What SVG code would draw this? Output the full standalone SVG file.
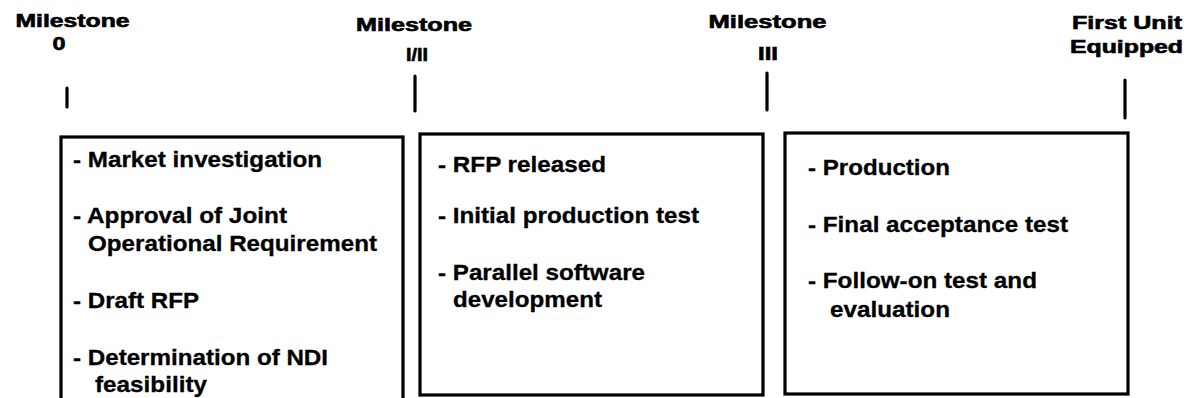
<svg xmlns="http://www.w3.org/2000/svg" width="1194" height="398" viewBox="0 0 1194 398">
<style>
text{font-family:"Liberation Sans",Arial,Helvetica,sans-serif;font-weight:bold;fill:#000}
.h{font-size:17.5px;text-anchor:middle;stroke:#000;stroke-width:0.6}
.b{font-size:21.5px;stroke:#000;stroke-width:0.3}
.box{fill:#fff;stroke:#000;stroke-width:3.2}
.tick{stroke:#000;stroke-width:3.2;stroke-linecap:round}
</style>
<rect width="1194" height="398" fill="#fff"/>
<g id="milestone-0">
<text class="h" x="72.5" y="27" textLength="114" lengthAdjust="spacingAndGlyphs">Milestone</text>
<text class="h" x="59" y="50" textLength="13" lengthAdjust="spacingAndGlyphs">0</text>
<line class="tick" x1="67" y1="88" x2="67" y2="107"/>
</g>
<g id="milestone-1-2">
<text class="h" x="414" y="31" textLength="116" lengthAdjust="spacingAndGlyphs">Milestone</text>
<text class="h" x="417" y="61" textLength="22" lengthAdjust="spacingAndGlyphs">I/II</text>
<line class="tick" x1="415" y1="76" x2="415" y2="111"/>
</g>
<g id="milestone-3">
<text class="h" x="767.5" y="28" textLength="118" lengthAdjust="spacingAndGlyphs">Milestone</text>
<text class="h" x="768" y="60" textLength="20" lengthAdjust="spacingAndGlyphs">III</text>
<line class="tick" x1="767" y1="73" x2="767" y2="110"/>
</g>
<g id="first-unit-equipped">
<text class="h" x="1127" y="29" textLength="110" lengthAdjust="spacingAndGlyphs">First Unit</text>
<text class="h" x="1126.5" y="53" textLength="113" lengthAdjust="spacingAndGlyphs">Equipped</text>
<line class="tick" x1="1125" y1="80" x2="1125" y2="118"/>
</g>
<g id="phase-1">
<rect class="box" x="61" y="137" width="342" height="275"/>
<text class="b" x="73" y="167" textLength="249" lengthAdjust="spacingAndGlyphs">- Market investigation</text>
<text class="b" x="73" y="223" textLength="214" lengthAdjust="spacingAndGlyphs">- Approval of Joint</text>
<text class="b" x="88" y="251" textLength="289" lengthAdjust="spacingAndGlyphs">Operational Requirement</text>
<text class="b" x="73" y="308" textLength="126" lengthAdjust="spacingAndGlyphs">- Draft RFP</text>
<text class="b" x="73" y="365" textLength="255" lengthAdjust="spacingAndGlyphs">- Determination of NDI</text>
<text class="b" x="95" y="392" textLength="112" lengthAdjust="spacingAndGlyphs">feasibility</text>
</g>
<g id="phase-2">
<rect class="box" x="420" y="134" width="343" height="261"/>
<text class="b" x="438" y="172" textLength="168" lengthAdjust="spacingAndGlyphs">- RFP released</text>
<text class="b" x="438" y="223" textLength="261" lengthAdjust="spacingAndGlyphs">- Initial production test</text>
<text class="b" x="438" y="280" textLength="207" lengthAdjust="spacingAndGlyphs">- Parallel software</text>
<text class="b" x="453" y="307" textLength="149" lengthAdjust="spacingAndGlyphs">development</text>
</g>
<g id="phase-3">
<rect class="box" x="785" y="133" width="343" height="261"/>
<text class="b" x="808" y="175" textLength="142" lengthAdjust="spacingAndGlyphs">- Production</text>
<text class="b" x="808" y="232" textLength="260" lengthAdjust="spacingAndGlyphs">- Final acceptance test</text>
<text class="b" x="808" y="288" textLength="229" lengthAdjust="spacingAndGlyphs">- Follow-on test and</text>
<text class="b" x="830" y="317" textLength="120" lengthAdjust="spacingAndGlyphs">evaluation</text>
</g>
<g id="connectors"></g>
</svg>
